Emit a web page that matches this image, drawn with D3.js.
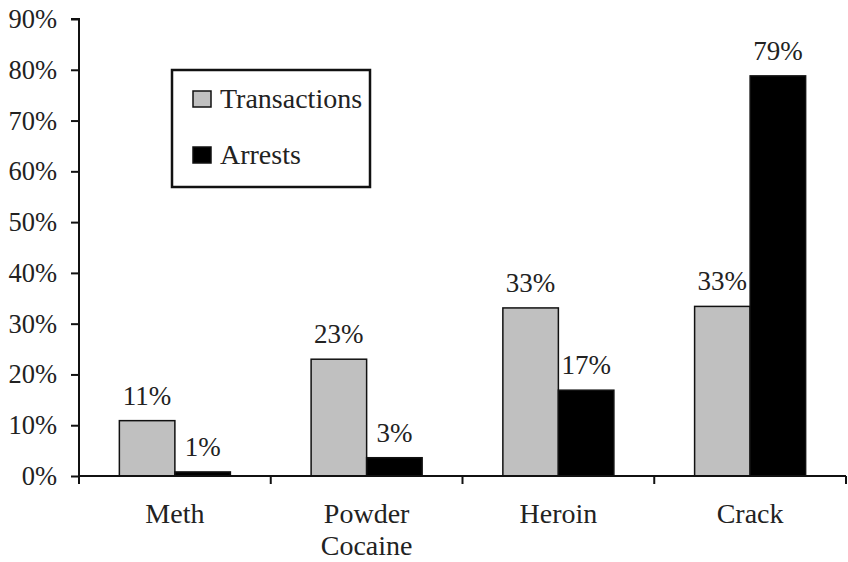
<!DOCTYPE html>
<html>
<head>
<meta charset="utf-8">
<script src="https://cdn.jsdelivr.net/npm/d3@7"></script>
<style>
  html, body { margin: 0; padding: 0; background: #fff; }
  svg { display: block; }
  text { font-family: "Liberation Serif", "Times New Roman", serif; fill: #222; }
</style>
</head>
<body>
<svg id="chart" width="848" height="562"></svg>
<script>
const categories = ["Meth", "Powder Cocaine", "Heroin", "Crack"];
const categoryLines = [["Meth"], ["Powder", "Cocaine"], ["Heroin"], ["Crack"]];
const seriesNames = ["Transactions", "Arrests"];
const transactions = [10.9, 23.0, 33.1, 33.4];
const arrests = [0.8, 3.6, 16.9, 78.8];
const transactionLabels = ["11%", "23%", "33%", "33%"];
const arrestLabels = ["1%", "3%", "17%", "79%"];
const yTicks = [0, 10, 20, 30, 40, 50, 60, 70, 80, 90];
const seriesColors = ["#c0c0c0", "#000000"];

const svg = d3.select("#chart");
const margin = { left: 79, right: 2, top: 19, bottom: 86 };
const W = 848, H = 562;

const y = d3.scaleLinear().domain([0, 90]).range([H - margin.bottom, margin.top]);
const x = d3.scaleBand().domain(categories).range([margin.left, W - margin.right]).padding(0);
const xs = d3.scaleBand().domain(seriesNames).range([0, x.bandwidth()]).paddingInner(0).paddingOuter(0.727);

const series = [transactions, arrests];
const labels = [transactionLabels, arrestLabels];

// bars
const g = svg.append("g");
seriesNames.forEach((s, si) => {
  g.selectAll(".bar-" + si)
    .data(categories)
    .enter().append("rect")
    .attr("x", c => x(c) + xs(s))
    .attr("y", (c, i) => y(series[si][i]))
    .attr("width", xs.bandwidth())
    .attr("height", (c, i) => y(0) - y(series[si][i]))
    .attr("fill", seriesColors[si])
    .attr("stroke", "#111")
    .attr("stroke-width", 1.5);
  g.selectAll(".lab-" + si)
    .data(categories)
    .enter().append("text")
    .attr("x", c => x(c) + xs(s) + xs.bandwidth() / 2)
    .attr("y", (c, i) => y(series[si][i]) - 16)
    .attr("text-anchor", "middle")
    .attr("font-size", 27)
    .text((c, i) => labels[si][i]);
});

// y axis
const yAxis = d3.axisLeft(y).tickValues(yTicks).tickFormat(d => d + "%").tickSize(8).tickPadding(14);
const ya = svg.append("g").attr("transform", `translate(${margin.left},0)`).call(yAxis);
ya.select(".domain").attr("stroke", "#111").attr("stroke-width", 2).attr("d", `M-8,${y(90)}H0V${y(0) + 8}`);
ya.selectAll(".tick line").attr("stroke", "#111").attr("stroke-width", 2);
ya.selectAll(".tick text").attr("font-size", 26.5).attr("fill", "#222");

// x axis: line with ticks at category boundaries
const xa = svg.append("g");
xa.append("line")
  .attr("x1", x.range()[0]).attr("x2", x.range()[1])
  .attr("y1", y(0)).attr("y2", y(0))
  .attr("stroke", "#111").attr("stroke-width", 2);
const boundaries = categories.map(c => x(c)).concat([x.range()[1]]);
xa.selectAll(".xt").data(boundaries).enter().append("line")
  .attr("x1", d => d).attr("x2", d => d)
  .attr("y1", y(0)).attr("y2", y(0) + 8)
  .attr("stroke", "#111").attr("stroke-width", 2);
categories.forEach((c, i) => {
  const t = xa.append("text")
    .attr("x", x(c) + x.bandwidth() / 2)
    .attr("y", y(0) + 47)
    .attr("text-anchor", "middle")
    .attr("font-size", 28);
  categoryLines[i].forEach((ln, li) => {
    t.append("tspan").attr("x", x(c) + x.bandwidth() / 2).attr("dy", li === 0 ? 0 : 32).text(ln);
  });
});

// legend
const lg = svg.append("g").attr("transform", "translate(172,70)");
lg.append("rect").attr("x", 0).attr("y", 0).attr("width", 198).attr("height", 117)
  .attr("fill", "#fff").attr("stroke", "#111").attr("stroke-width", 2.5);
seriesNames.forEach((s, si) => {
  lg.append("rect").attr("x", 21).attr("y", 21 + si * 56).attr("width", 18).attr("height", 16)
    .attr("fill", seriesColors[si]).attr("stroke", "#111").attr("stroke-width", 1.5);
  lg.append("text").attr("x", 48).attr("y", 38 + si * 56).attr("font-size", 28).text(s);
});
</script>
</body>
</html>
